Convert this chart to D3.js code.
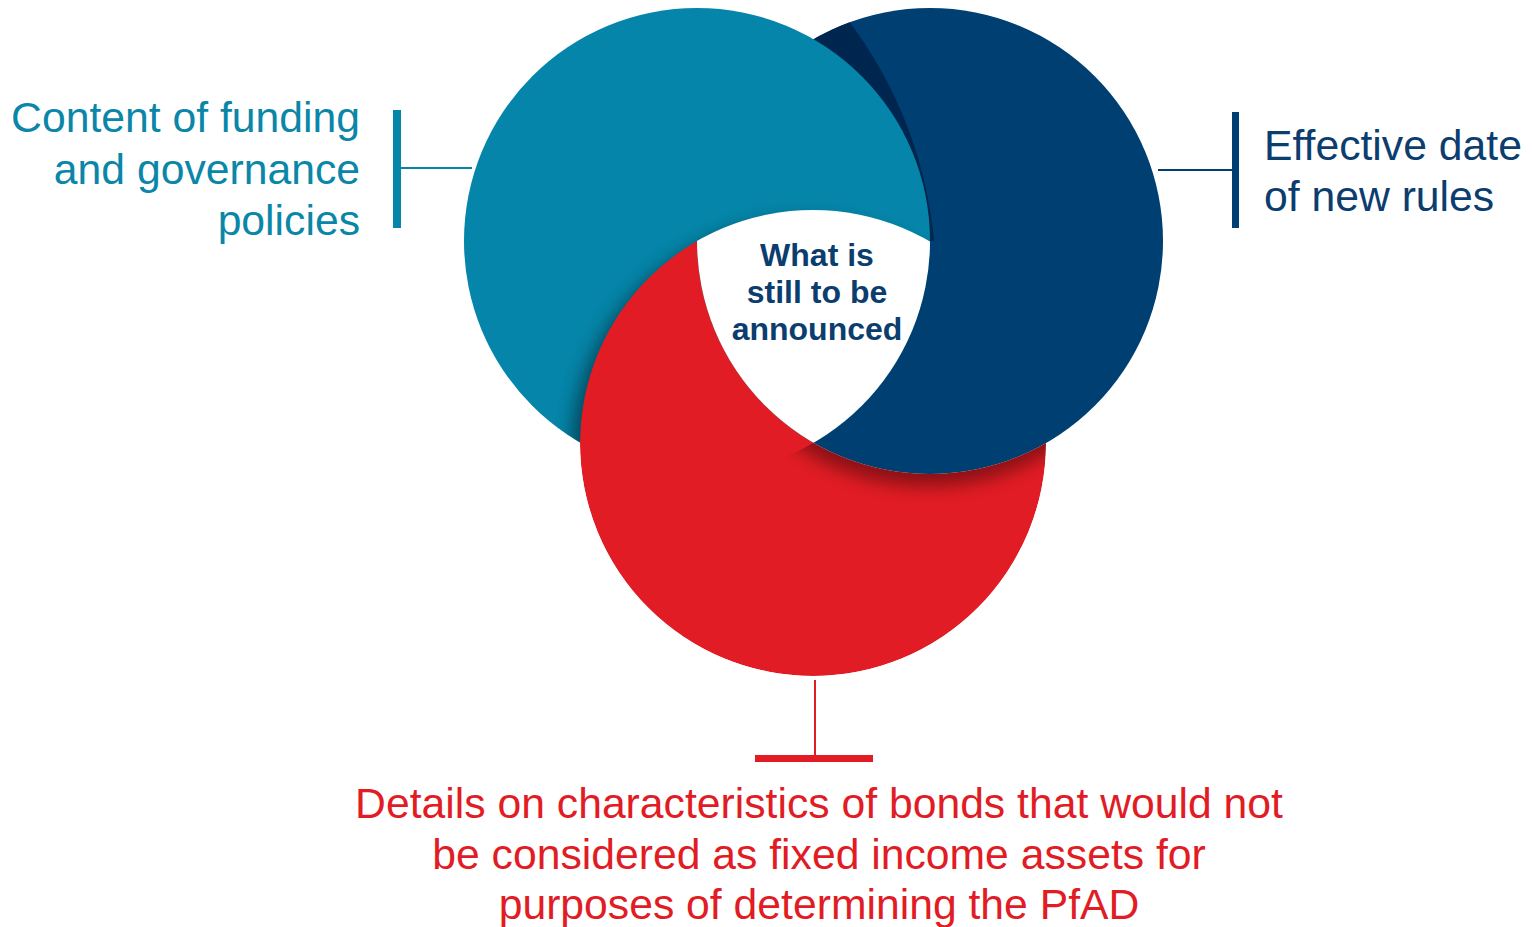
<!DOCTYPE html>
<html>
<head>
<meta charset="utf-8">
<script src="https://cdn.jsdelivr.net/npm/d3@7"></script>
<style>
  html, body { margin: 0; padding: 0; background: #fff; }
  svg { display: block; font-family: "Liberation Sans", Arial, sans-serif; }
</style>
</head>
<body>
<div id="chart"></div>
<script>
// the three sets: teal (left), navy (right), red (bottom)
var setKeys = ["funding", "effective", "bonds"];
var setColors = ["#0585a9", "#003f72", "#e11c24"];
var setLabels = [
    ["Content of funding", "and governance", "policies"],
    ["Effective date", "of new rules"],
    ["Details on characteristics of bonds that would not",
     "be considered as fixed income assets for",
     "purposes of determining the PfAD"]
];
var centerLabel = ["What is", "still to be", "announced"];

var width = 1532, height = 927;
var R = 233;
// circle centres
var centres = {
    funding:   { x: 697, y: 241 },
    effective: { x: 930, y: 241 },
    bonds:     { x: 813, y: 443 }
};

var svg = d3.select('#chart').append('svg')
    .attr('width', width)
    .attr('height', height);

var defs = svg.append('defs');

setKeys.forEach(function (k) {
    defs.append('clipPath').attr('id', 'clip-' + k)
        .append('circle')
        .attr('cx', centres[k].x).attr('cy', centres[k].y).attr('r', R);
});

// dark crescent where the teal circle tucks under navy (upper half only)
defs.append('clipPath').attr('id', 'clip-crescent')
    .append('circle').attr('cx', 505).attr('cy', 281).attr('r', 431);
defs.append('clipPath').attr('id', 'clip-upper')
    .append('rect').attr('x', 0).attr('y', 0).attr('width', width).attr('height', centres.funding.y);

function maskOf(id, keep, cut) {
    var m = defs.append('mask').attr('id', id);
    m.append('rect').attr('width', width).attr('height', height).attr('fill', 'black');
    m.append('circle').attr('cx', centres[keep].x).attr('cy', centres[keep].y).attr('r', R).attr('fill', 'white');
    cut.forEach(function (k) {
        m.append('circle').attr('cx', centres[k].x).attr('cy', centres[k].y).attr('r', R).attr('fill', 'black');
    });
}
maskOf('mask-red', 'bonds', ['effective']);
maskOf('mask-red-shadow', 'bonds', ['funding', 'effective']);

defs.append('filter').attr('id', 'blur')
    .attr('x', '-20%').attr('y', '-20%').attr('width', '140%').attr('height', '140%')
    .append('feGaussianBlur').attr('stdDeviation', 9);

var g = svg.append('g');

function circ(parent, k, fill) {
    return parent.append('circle')
        .attr('cx', centres[k].x).attr('cy', centres[k].y).attr('r', R)
        .attr('fill', fill);
}

// navy
circ(g, 'effective', setColors[1]);
// dark crescent on navy
g.append('g').attr('clip-path', 'url(#clip-effective)')
  .append('g').attr('clip-path', 'url(#clip-crescent)')
  .append('g').attr('clip-path', 'url(#clip-upper)')
  .append('rect').attr('width', width).attr('height', height).attr('fill', '#00264f');
// teal
circ(g, 'funding', setColors[0]);
// red's shadow onto teal
g.append('g').attr('clip-path', 'url(#clip-funding)')
  .append('circle')
    .attr('cx', centres.bonds.x - 9).attr('cy', centres.bonds.y + 10).attr('r', R)
    .attr('fill', '#000').attr('opacity', 0.45)
    .attr('filter', 'url(#blur)');
// red (under navy)
g.append('g').attr('mask', 'url(#mask-red)')
  .call(function (s) { circ(s, 'bonds', setColors[2]); });
// navy's shadow onto red
g.append('g').attr('mask', 'url(#mask-red-shadow)')
  .append('circle')
    .attr('cx', centres.effective.x - 2).attr('cy', centres.effective.y + 12).attr('r', R)
    .attr('fill', '#000').attr('opacity', 0.4)
    .attr('filter', 'url(#blur)');
// white centre (all three)
g.append('g').attr('clip-path', 'url(#clip-bonds)')
  .append('g').attr('clip-path', 'url(#clip-funding)')
  .call(function (s) { circ(s, 'effective', '#fff'); });

// centre text
svg.append('text')
    .attr('text-anchor', 'middle')
    .attr('fill', '#0b3d6e')
    .attr('font-weight', 'bold')
    .attr('font-size', 32)
    .selectAll('tspan')
    .data(centerLabel)
    .enter().append('tspan')
    .attr('x', 817)
    .attr('y', function (d, i) { return 266 + i * 37; })
    .text(function (d) { return d; });

// ---- labels with brackets ----
var fs = 42.7;

// left (teal)
svg.append('rect').attr('x', 393).attr('y', 110).attr('width', 8).attr('height', 118).attr('fill', setColors[0]);
svg.append('line').attr('x1', 401).attr('x2', 472).attr('y1', 168).attr('y2', 168)
    .attr('stroke', setColors[0]).attr('stroke-width', 2);
svg.append('text')
    .attr('text-anchor', 'end').attr('fill', '#0a86a8').attr('font-size', fs)
    .selectAll('tspan').data(setLabels[0]).enter().append('tspan')
    .attr('x', 360)
    .attr('y', function (d, i) { return 132 + i * 51.5; })
    .text(function (d) { return d; });

// right (navy)
svg.append('rect').attr('x', 1232).attr('y', 112).attr('width', 7).attr('height', 116).attr('fill', setColors[1]);
svg.append('line').attr('x1', 1158).attr('x2', 1232).attr('y1', 170).attr('y2', 170)
    .attr('stroke', setColors[1]).attr('stroke-width', 2);
svg.append('text')
    .attr('text-anchor', 'start').attr('fill', '#0b3d6e').attr('font-size', fs)
    .selectAll('tspan').data(setLabels[1]).enter().append('tspan')
    .attr('x', 1264)
    .attr('y', function (d, i) { return 160 + i * 51; })
    .text(function (d) { return d; });

// bottom (red)
svg.append('line').attr('x1', 815).attr('x2', 815).attr('y1', 680).attr('y2', 756)
    .attr('stroke', setColors[2]).attr('stroke-width', 2);
svg.append('rect').attr('x', 755).attr('y', 755).attr('width', 118).attr('height', 7).attr('fill', setColors[2]);
svg.append('text')
    .attr('text-anchor', 'middle').attr('fill', setColors[2]).attr('font-size', fs)
    .selectAll('tspan').data(setLabels[2]).enter().append('tspan')
    .attr('x', 819)
    .attr('y', function (d, i) { return 818 + i * 50.5; })
    .text(function (d) { return d; });
</script>
</body>
</html>
